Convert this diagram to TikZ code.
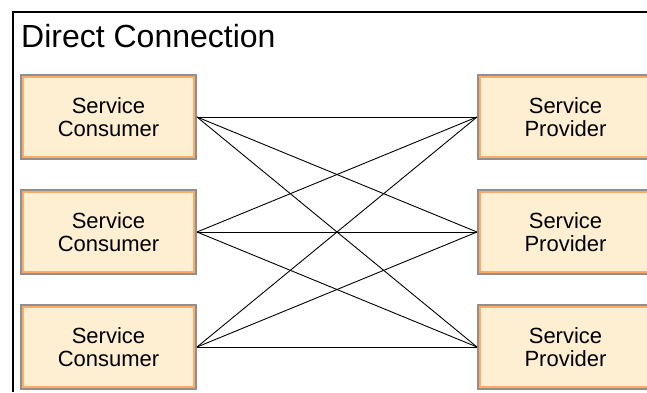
\documentclass[tikz,border=0pt]{standalone}
\usepackage{fontspec}
\setmainfont{Liberation Sans}
\definecolor{boxgray}{HTML}{8F8F8F}
\definecolor{boxorange}{HTML}{FFAA66}
\definecolor{boxfill}{HTML}{FFEFD2}
\begin{document}
\begin{tikzpicture}[x=1pt, y=-1pt,
    service/.style ={rectangle, fill=boxfill, draw=boxorange, line width=2.5pt,
      preaction={draw=boxgray, line width=6pt},
      minimum width=171pt, minimum height=80pt, outer sep=3pt,
      align=center, font=\fontsize{22}{22.5}\selectfont},
    link/.style ={line width=0.9pt}]
   \useasboundingbox (0,0) rectangle (647,392);
   \clip (0,0) rectangle (647,392);
   \draw[line width=1.2pt] (13,392) -- (13,12) -- (647,12);
   \node[anchor=base west, inner sep=0pt, font=\fontsize{32}{34}\selectfont] (title) at (21,47) {Direct Connection};
   \node[service] (C1) at (108.5,117) {Service\\Consumer};
   \node[service] (C2) at (108.5,232) {Service\\Consumer};
   \node[service] (C3) at (108.5,347) {Service\\Consumer};
   \node[service] (P1) at (565.5,117) {Service\\Provider};
   \node[service] (P2) at (565.5,232) {Service\\Provider};
   \node[service] (P3) at (565.5,347) {Service\\Provider};
   \draw[link] (C1.east) to (P1.west);
   \draw[link] (C1.east) to (P2.west);
   \draw[link] (C1.east) to (P3.west);
   \draw[link] (C2.east) to (P1.west);
   \draw[link] (C2.east) to (P2.west);
   \draw[link] (C2.east) to (P3.west);
   \draw[link] (C3.east) to (P1.west);
   \draw[link] (C3.east) to (P2.west);
   \draw[link] (C3.east) to (P3.west);
 \end{tikzpicture}
\end{document}
